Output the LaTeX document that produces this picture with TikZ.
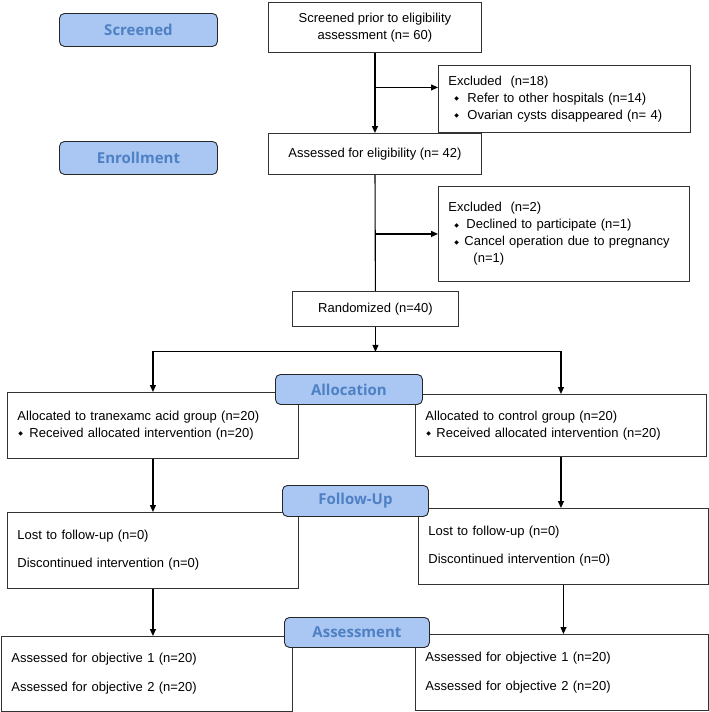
\documentclass[tikz,border=0pt]{standalone}
\usepackage{fontspec}
\setmainfont{Liberation Sans}
\newfontfamily\stagefont{Open Sans}
\newfontfamily\diafont{DejaVu Sans}
\usepackage{tikz}
\usetikzlibrary{arrows.meta}
\definecolor{stagefill}{RGB}{170,198,242}
\definecolor{stagetext}{RGB}{78,128,196}
\tikzset{box/.style={draw=black!80,line width=0.9pt,fill=white,
                     inner ysep=0pt,anchor=north west,
                     font=\fontsize{13}{17}\selectfont}}
\tikzset{stage/.style={draw=black!85,line width=0.9pt,fill=stagefill,
                       rounded corners=5pt,inner sep=0pt,anchor=north west,
                       text=stagetext,font=\stagefont\bfseries\fontsize{15}{18}\selectfont}}
\newcommand{\dbul}[2]{\makebox[#2][l]{\hspace*{#1}\raisebox{1.5pt}{\diafont\fontsize{6}{6}\selectfont ◆}}}

\begin{document}
\begin{tikzpicture}[x=1pt,y=-1pt,>={Triangle[length=7pt,width=6pt]}]
    \tikzstyle{arr}=[->,line width=1.1pt]
    \tikzstyle{leftbox}=[box,align=left,inner xsep=10pt]
    \tikzstyle{midbox}=[box,align=center,inner xsep=0pt]
    \useasboundingbox (0,0) rectangle (709,712);

    % Screening and enrollment
    \node[midbox,minimum width=213pt,minimum height=50pt] (scr) at (268,2)
        {Screened prior to eligibility\\assessment (n= 60)};
    \node[leftbox,text width=232pt,minimum height=67pt] (excl-1) at (438,65)
        {Excluded\ \ (n=18)\\
         \dbul{6pt}{19pt}Refer to other hospitals (n=14)\\
         \dbul{6pt}{19pt}Ovarian cysts disappeared (n= 4)};
    \node[midbox,minimum width=213pt,minimum height=41pt] (elig) at (268,133)
        {Assessed for eligibility (n= 42)};
    \node[leftbox,text width=231pt,minimum height=95pt] (excl-2) at (438,186)
        {Excluded\ \ (n=2)\\
         \dbul{6pt}{18pt}Declined to participate (n=1)\\
         \dbul{6pt}{16pt}Cancel operation due to pregnancy\\
         \hspace*{25pt}(n=1)};
    \node[midbox,minimum width=166pt,minimum height=35pt] (rand) at (292,291)
        {Randomized (n=40)};

    % Allocation
    \node[leftbox,text width=271pt,minimum height=66pt] (alloc-1) at (7,392)
        {Allocated to tranexamc acid group (n=20)\\
         \dbul{1pt}{12pt}Received allocated intervention (n=20)};
    \node[leftbox,text width=271pt,minimum height=62pt] (alloc-2) at (415,394)
        {Allocated to control group (n=20)\\
         \dbul{1pt}{11pt}Received allocated intervention (n=20)};

    % Follow-up
    \node[leftbox,text width=271pt,minimum height=76pt] (follow-1) at (7,512)
        {Lost to follow-up (n=0)\\[11pt]Discontinued intervention (n=0)};
    \node[leftbox,text width=270pt,minimum height=76pt] (follow-2) at (418,508)
        {Lost to follow-up (n=0)\\[11pt]Discontinued intervention (n=0)};

    % Assessment
    \node[leftbox,text width=271pt,minimum height=75pt] (assess-1) at (1,636)
        {Assessed for objective 1 (n=20)\\[12pt]Assessed for objective 2 (n=20)};
    \node[leftbox,text width=273pt,minimum height=76pt] (assess-2) at (415,634)
        {Assessed for objective 1 (n=20)\\[12pt]Assessed for objective 2 (n=20)};

    % Connect the boxes
    \coordinate (br-1) at ([yshift=11.5pt]excl-1.west);
    \coordinate (split) at ([yshift=-25pt]rand.south);
    \draw[arr] (scr) -- (elig);
    \draw[arr] (scr.south |- br-1) -- (br-1);
    \draw[arr] (scr.south |- excl-2.west) -- (excl-2.west);
    \draw[line width=1.1pt] (elig) -- (rand);
    \draw[arr] (rand) -- (split);
    \draw[arr] (split) -| (alloc-1.north);
    \draw[arr] (split) -| (alloc-2.north);
    \draw[arr] (alloc-1) -- (follow-1);
    \draw[arr] (alloc-2.south) -- (alloc-2.south |- follow-2.north);
    \draw[arr] (follow-1.south) -- (follow-1.south |- assess-1.north);
    \draw[arr] (follow-2.south) -- (follow-2.south |- assess-2.north);

    % Stage labels on top
    \foreach \name/\x/\y/\w/\h [count=\i] in {Screened/59/13/158/33,
            Enrollment/59/141/158/33, Allocation/275/374/147/30,
            Follow-Up/282/485/146/31, Assessment/284/617/145/30}
        \node[stage,minimum width=\w pt,minimum height=\h pt] (stage-\i) at (\x,\y) {\name};
\end{tikzpicture}
\end{document}
